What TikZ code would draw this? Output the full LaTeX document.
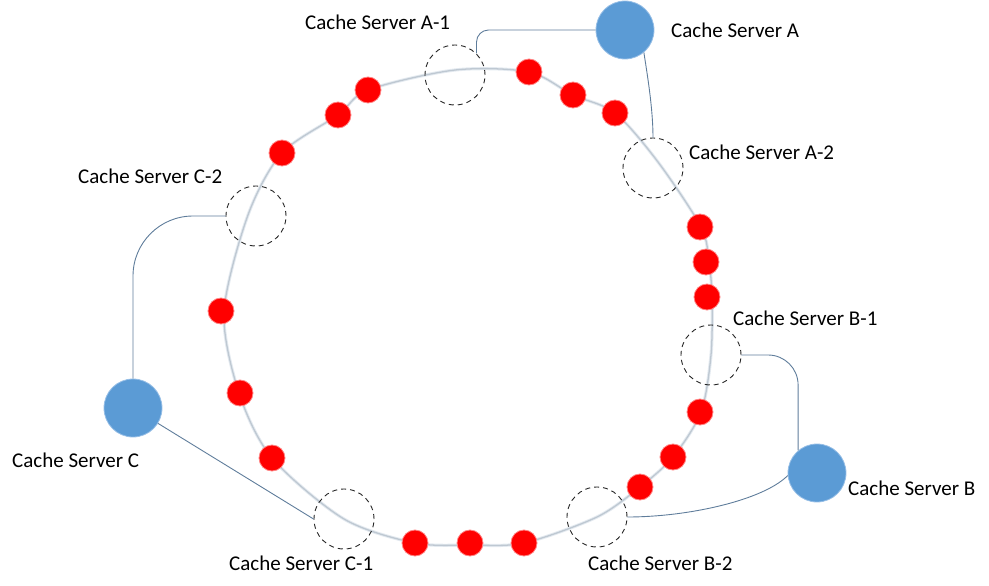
\documentclass[tikz,border=0pt]{standalone}
\usepackage{fontspec}
\setmainfont{Carlito}
\begin{document}
\begin{tikzpicture}[x=1pt,y=-1pt,
  ringhalo/.style={draw={rgb,255:red,228;green,234;blue,240},line width=3.2pt},
  ring/.style={draw={rgb,255:red,190;green,200;blue,210},line width=1.3pt},
  dot/.style={circle,fill={rgb,255:red,255;green,0;blue,0},draw={rgb,255:red,255;green,130;blue,130},line width=0.8pt,minimum size=26pt,inner sep=0pt},
  vnode/.style={circle,draw=black!85,dash pattern=on 5pt off 4pt,line width=0.9pt,minimum size=60pt,inner sep=0pt},
  server/.style={circle,fill={rgb,255:red,91;green,155;blue,213},draw={rgb,255:red,150;green,190;blue,230},line width=0.8pt,minimum size=58pt,inner sep=0pt},
  link/.style={draw={rgb,255:red,95;green,125;blue,155},line width=0.9pt},
  lbl/.style={font=\fontsize{21}{25}\selectfont,text=black,inner sep=0pt,anchor=base west}]
\useasboundingbox (0,0) rectangle (989,586);
% ring
\def\ringpts{(455,70) (529,72) (573,95) (615,113) (658,162) (701,227) (709,262) (712,297)
 (711,355) (701,412) (673,457) (640,487) (597,517) (524,543) (470,545) (415,543)
 (344,519) (272,458) (239,393) (224,312) (248,215) (282,153) (338,115) (368,90)}
\draw[ringhalo] plot[smooth cycle,tension=0.5] coordinates {\ringpts};
\draw[ring] plot[smooth cycle,tension=0.5] coordinates {\ringpts};
% virtual nodes
\node[vnode] (a1) at (455,75) {};
\node[vnode] (a2) at (653,168) {};
\node[vnode] (c2) at (256,216) {};
\node[vnode] (b1) at (711,355) {};
\node[vnode] (b2) at (597,517) {};
\node[vnode] (c1) at (344,519) {};
% servers
\node[server] (A) at (625,30) {};
\node[server] (B) at (817,473) {};
\node[server] (C) at (133,408) {};
% data dots
\foreach \p [count=\i] in {(529,72),(573,95),(615,113),(368,90),(338,115),(282,153),
  (700,227),(706,262),(707,297),(221,311),(240,393),(272,458),(700,412),(673,457),
  (640,487),(415,543),(470,543),(524,543)}
  \node[dot] (d\i) at \p {};
% connectors
\draw[link,rounded corners=12pt] (a1.45) |- (A.west);
\draw[link] (A.-50) .. controls +(3,20) and +(0,-30) .. (a2.north);
\draw[link,rounded corners=30pt] (b1.east) -| (B.130);
\draw[link] (B.185) .. controls +(-25,25) and +(60,0) .. (b2.east);
\draw[link,rounded corners=60pt] (c2.west) -| (C.north);
\draw[link] (C) -- (c1.west);
% labels
\node[lbl] (la1) at (305,30) {Cache Server A-1};
\node[lbl] (la) at (671,38) {Cache Server A};
\node[lbl] (la2) at (689,160) {Cache Server A-2};
\node[lbl] (lc2) at (78,183) {Cache Server C-2};
\node[lbl] (lb1) at (733,325) {Cache Server B-1};
\node[lbl] (lc) at (12,467) {Cache Server C};
\node[lbl] (lb) at (848,495) {Cache Server B};
\node[lbl] (lc1) at (229,570) {Cache Server C-1};
\node[lbl] (lb2) at (588,570) {Cache Server B-2};
\end{tikzpicture}
\end{document}
